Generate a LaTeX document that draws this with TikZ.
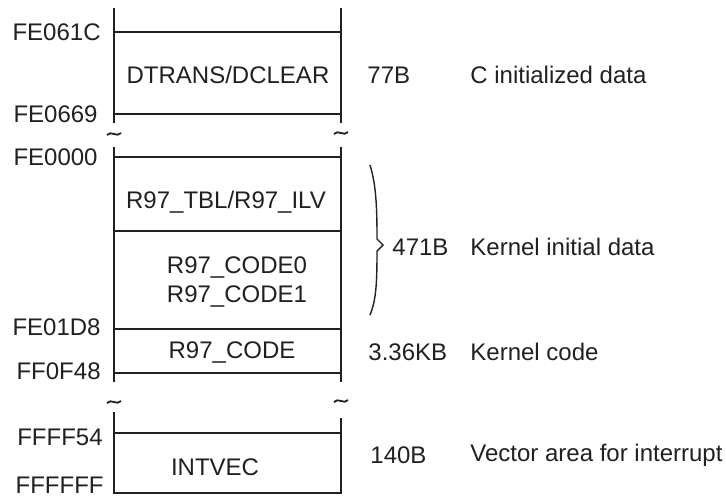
\documentclass[tikz,border=0pt]{standalone}
\usepackage{fontspec}
\setmainfont{Liberation Sans}
\definecolor{Ink}{HTML}{231F20}
\tikzset{
 addr/.style={anchor=east,inner sep=0pt,text=Ink},
 size/.style={anchor=west,inner sep=0pt,text=Ink},
 area/.style={inner sep=0pt,align=center,text=Ink},
 wall/.style={line width=1.1pt,draw=Ink},
 rim/.style={line width=0.8pt,draw=Ink},
 brace/.style={line width=0.7pt,draw=Ink},
 cut/.style={line width=0.9pt,draw=Ink}
}
\begin{document}
\begin{tikzpicture}[x=0.5pt,y=-0.5pt,font=\fontsize{12}{14.5}\selectfont]
\useasboundingbox (0,0) rectangle (726,499);
% the three pieces of the memory map
\foreach \t/\b in {8/123,147/382} {\draw[wall] (114,\t)--(114,\b); \draw[wall] (341,\t)--(341,\b);}
\draw[wall] (114,412)--(114,493)--(341,493)--(341,418);
\foreach \y in {32,114,157,231,329,373,433} \draw[rim] (114,\y)--(341,\y);
\foreach \x/\y in {114/134,341/133,114/402,341/401}
 \draw[cut] (\x-7,\y+1) .. controls (\x-3,\y-4) and (\x+3,\y+4) .. (\x+7,\y-1);
% addresses
\foreach \t/\x/\y in {FE061C/101/32,FE0669/98/114,FE0000/98/157,FE01D8/101/327,FF0F48/101/371,FFFF54/103/437,FFFFFF/104/485}
 \node[addr] (a\t) at (\x,\y) {\t};
% sections
\node[area] (dtr) at (228,75) {DTRANS/DCLEAR};
\node[area] (tbl) at (226,202) {R97\_TBL/R97\_ILV};
\node[area] (cod) at (237,282) {R97\_CODE0\\R97\_CODE1};
\node[area] (krn) at (232,352) {R97\_CODE};
\node[area] (vec) at (215,467) {INTVEC};
% sizes and notes
\draw[brace] (370,165) .. controls (376,185) and (377,205) .. (377,239) -- (383,245) -- (377,251) .. controls (377,285) and (376,300) .. (370,315);
\node[size] (s1) at (367,75) {77B};
\node[size] (s2) at (392,247) {471B};
\node[size] (s3) at (368,352) {3.36KB};
\node[size] (s4) at (370,455) {140B};
\node[size] (d1) at (470,75) {C initialized data};
\node[size] (d2) at (470,247) {Kernel initial data};
\node[size] (d3) at (470,352) {Kernel code};
\node[size] (d4) at (470,455) {Vector area for interrupt};
\end{tikzpicture}
\end{document}
